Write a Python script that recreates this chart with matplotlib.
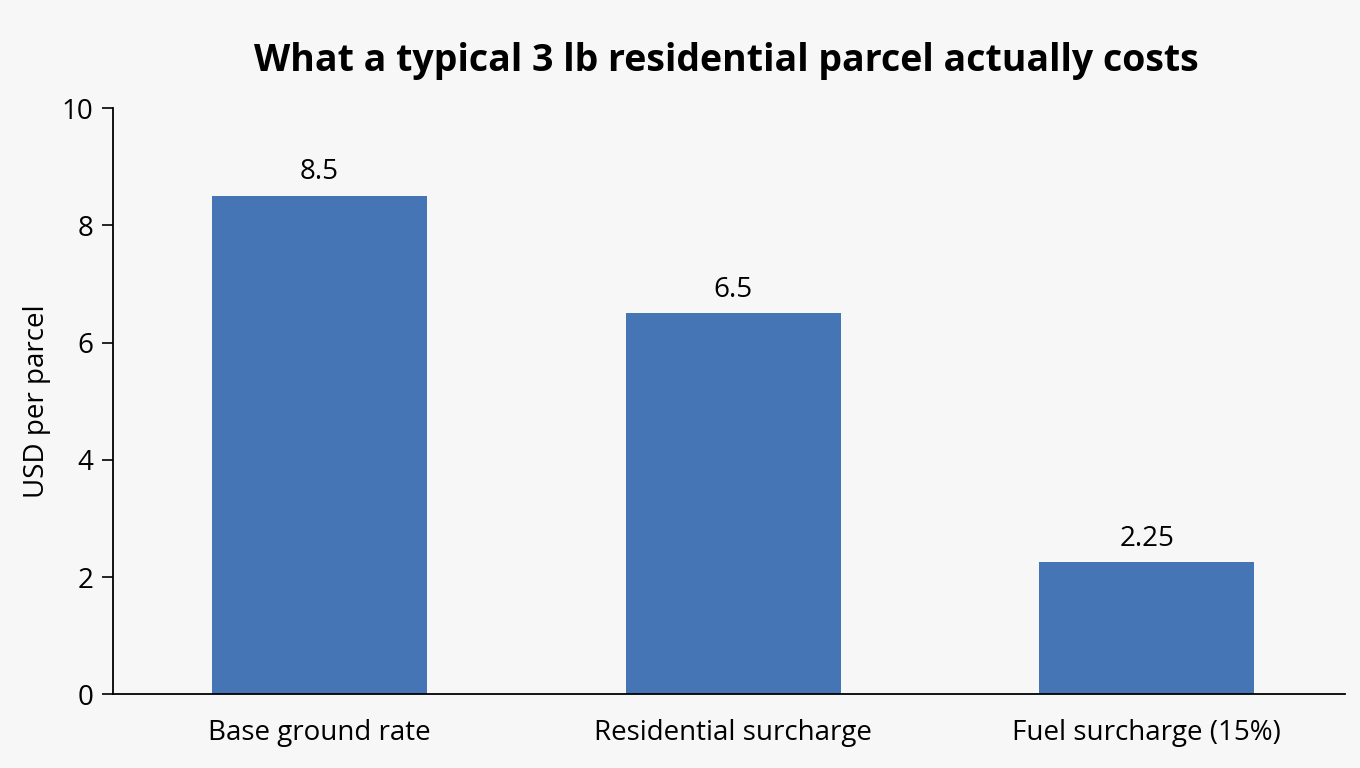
import matplotlib
matplotlib.use("Agg")
import matplotlib.pyplot as plt

categories = ["Base ground rate", "Residential surcharge", "Fuel surcharge (15%)"]
costs = [8.5, 6.5, 2.25]
cost_labels = ["8.5", "6.5", "2.25"]
yticks = [0, 2, 4, 6, 8, 10]

plt.rcParams['font.family'] = ['Open Sans', 'DejaVu Sans']

fig = plt.figure(figsize=(13.6, 7.68), dpi=100, facecolor='#f7f7f7')
ax = fig.add_axes([0.083, 0.096, 0.906, 0.763])
ax.set_facecolor('#f7f7f7')

xs = range(len(categories))
bars = ax.bar(xs, costs, width=0.52, color='#4575b4')
for b, lab in zip(bars, cost_labels):
    ax.annotate(lab, (b.get_x() + b.get_width() / 2, b.get_height()),
                xytext=(0, 7), textcoords='offset points',
                ha='center', va='bottom', fontsize=20)

ax.set_xlim(-0.5, 2.48)
ax.set_ylim(0, 10)
ax.set_yticks(yticks)
ax.set_xticks(list(xs))
ax.set_xticklabels(categories, fontsize=20)
ax.tick_params(axis='x', length=0, pad=18)
ax.tick_params(axis='y', labelsize=20, length=8, width=1.2, pad=6)
ax.set_ylabel("USD per parcel", fontsize=20, labelpad=8)
for s in ('top', 'right'):
    ax.spines[s].set_visible(False)
for s in ('left', 'bottom'):
    ax.spines[s].set_linewidth(1.3)

fig.text(0.534, 0.921, "What a typical 3 lb residential parcel actually costs",
         ha='center', va='center', fontsize=27, fontweight='bold')

fig.savefig("out.png", dpi=100, facecolor=fig.get_facecolor())
